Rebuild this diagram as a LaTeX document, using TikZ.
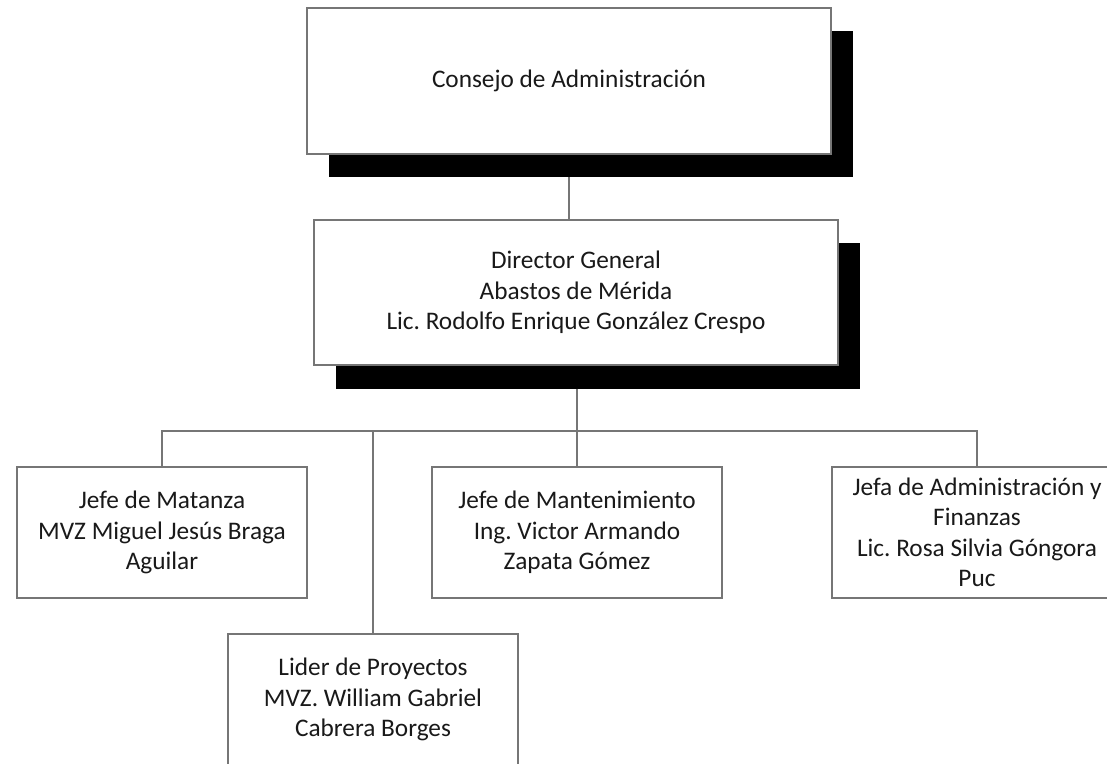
\documentclass[tikz,border=0pt]{standalone}
\usepackage{fontspec}
\setmainfont{Carlito}
\frenchspacing
\definecolor{lineg}{RGB}{118,118,118}
\definecolor{txt}{RGB}{25,25,25}
\tikzset{
  box/.style={draw=lineg, line width=1.8pt, fill=white, text=txt, align=center,
    inner sep=0pt, font=\fontsize{25.3}{30.5}\selectfont},
  bigbox/.style={box, minimum width=524pt, minimum height=146pt},
  smallbox/.style={box, minimum width=290pt, minimum height=131pt},
  shadowbox/.style={fill=black, draw=none, minimum width=524pt, minimum height=146pt, inner sep=0pt},
  conn/.style={draw=lineg, line width=1.8pt}
}
\begin{document}
\begin{tikzpicture}[x=1pt,y=-1pt]
\useasboundingbox[fill=white] (0,0) rectangle (1107,763);
% shadows
\node[shadowbox] (topsh) at (591,104) {};
\node[shadowbox] (dirsh) at (598,315.5) {};
% main boxes
\node[bigbox] (top) at (569,81) {Consejo de Administración};
\node[bigbox, minimum height=145pt] (dir) at (576,292.5) {Director General\\Abastos de Mérida\\Lic. Rodolfo Enrique González Crespo};
\coordinate (bus) at (0,431);
\node[smallbox] (mat) at (162,532.5) {Jefe de Matanza\\MVZ Miguel Jesús Braga\\Aguilar};
\node[smallbox] (mant) at (577,532.5) {Jefe de Mantenimiento\\Ing. Victor Armando\\Zapata Gómez};
\node[smallbox] (adm) at (977,532.5) {Jefa de Administración y\\Finanzas\\Lic. Rosa Silvia Góngora\\Puc};
\node[smallbox] (lid) at (373,699.5) {Lider de Proyectos\\MVZ. William Gabriel\\Cabrera Borges};
% connectors
\draw[conn] (top.south |- topsh.south) -- (top.south |- dir.north);
\draw[conn] (mant.north |- dirsh.south) -- (mant.north);
\draw[conn] (mat.north) -- (mat.north |- bus) -- (adm.north |- bus) -- (adm.north);
\draw[conn] (lid.north) -- (lid.north |- bus);
\end{tikzpicture}
\end{document}
